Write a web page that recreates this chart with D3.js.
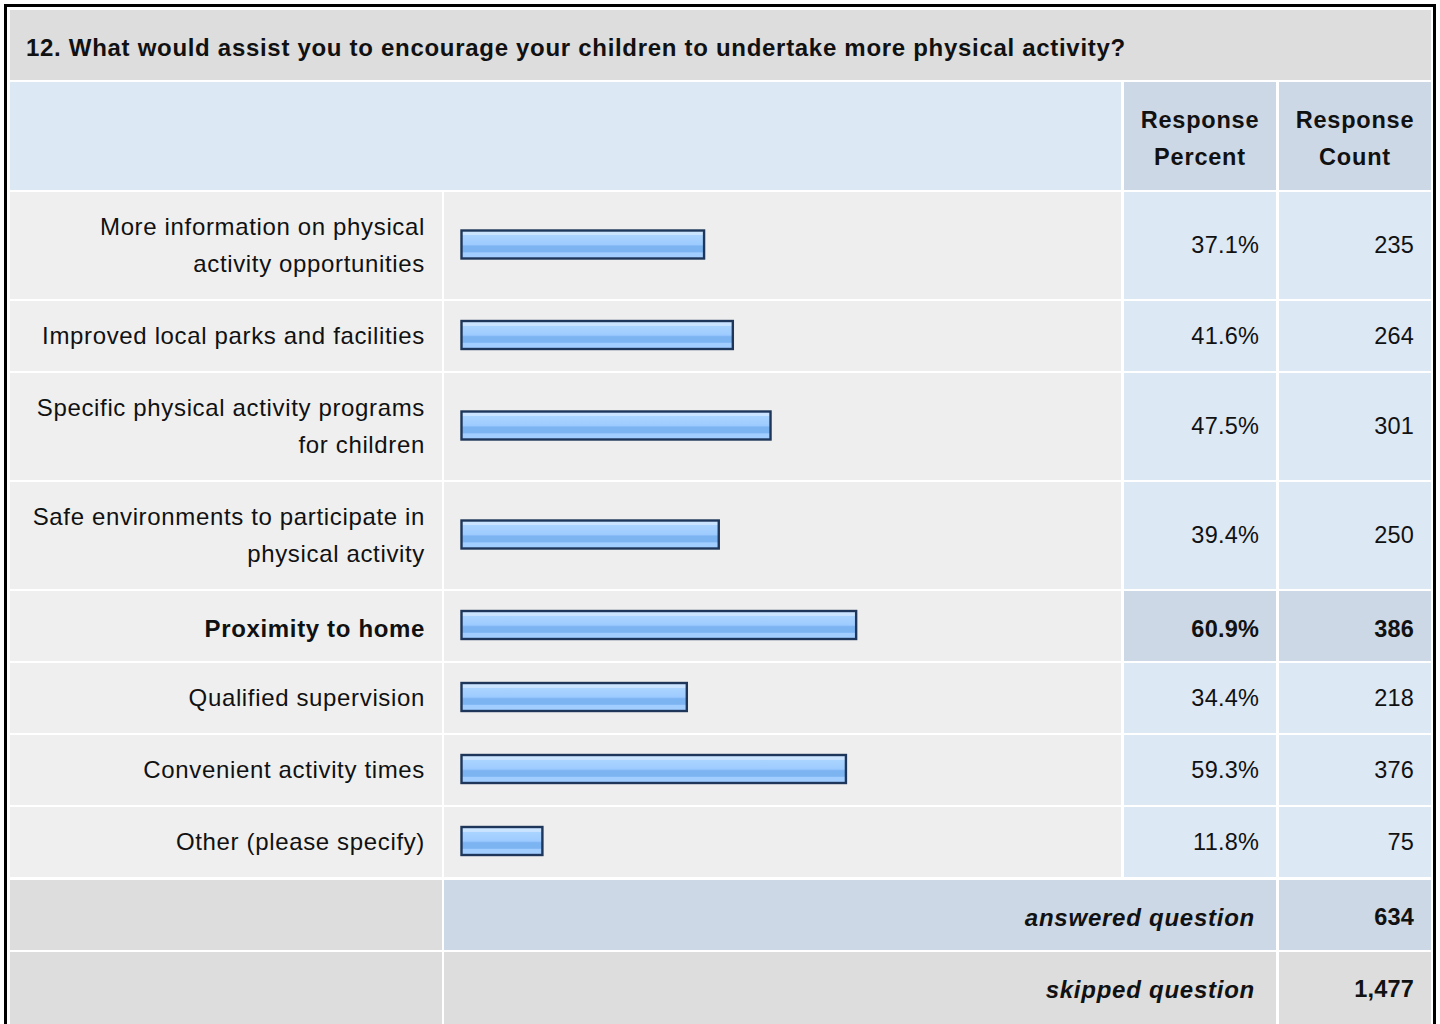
<!DOCTYPE html>
<html>
<head>
<meta charset="utf-8">
<script src="https://cdn.jsdelivr.net/npm/d3@7"></script>
<style>
  html, body { margin: 0; padding: 0; background: #ffffff; }
  svg { display: block; }
  text { font-family: "Liberation Sans", Arial, Helvetica, sans-serif; fill: #111; }
</style>
</head>
<body>
<svg id="chart" width="1440" height="1024"></svg>
<script>
// ---- data ----
const title = "12. What would assist you to encourage your children to undertake more physical activity?";
const headers = [["Response", "Percent"], ["Response", "Count"]];
const categories = [
  "More information on physical\nactivity opportunities",
  "Improved local parks and facilities",
  "Specific physical activity programs\nfor children",
  "Safe environments to participate in\nphysical activity",
  "Proximity to home",
  "Qualified supervision",
  "Convenient activity times",
  "Other (please specify)"
];
const percents = [37.1, 41.6, 47.5, 39.4, 60.9, 34.4, 59.3, 11.8];
const counts = [235, 264, 301, 250, 386, 218, 376, 75];
const summaryLabels = ["answered question", "skipped question"];
const summaryValues = [634, 1477];

// ---- layout ----
const W = 1440, H = 1024;
const svg = d3.select("#chart");
const gap = 2;
const colLabel = [10, 442], colBar = [444, 1121], colPct = [1124, 1276], colCnt = [1279, 1431];
const titleY = [10, 80], headY = [82, 190];
const singleH = 70, doubleH = 107;
const lineH = 37;
const fontSize = 24;

const C = {
  title: "#dddddd", head: "#dde8f5", headCell: "#ccd8e6",
  label: "#efefef", barCell: "#eeeeee", val: "#dde8f5", hi: "#ccd8e6", sum: "#dddddd"
};

// frame
svg.append("rect").attr("x", 0).attr("y", 0).attr("width", W).attr("height", H).attr("fill", "#fff");
svg.append("rect").attr("x", 5.5).attr("y", 5.5).attr("width", 1429).attr("height", 1040)
  .attr("fill", "#fff").attr("stroke", "#000").attr("stroke-width", 3);

// title
svg.append("rect").attr("x", colLabel[0]).attr("y", titleY[0]).attr("width", colCnt[1] - colLabel[0])
  .attr("height", titleY[1] - titleY[0]).attr("fill", C.title);
svg.append("text").attr("x", 26).attr("y", (titleY[0] + titleY[1]) / 2 + 2).attr("dy", "0.36em")
  .attr("font-size", 24).attr("font-weight", "bold").attr("letter-spacing", 0.7).text(title);

// header
svg.append("rect").attr("x", colLabel[0]).attr("y", headY[0]).attr("width", colBar[1] - colLabel[0])
  .attr("height", headY[1] - headY[0]).attr("fill", C.head);
[colPct, colCnt].forEach((c, i) => {
  svg.append("rect").attr("x", c[0]).attr("y", headY[0]).attr("width", c[1] - c[0])
    .attr("height", headY[1] - headY[0]).attr("fill", C.headCell);
  const cy = (headY[0] + headY[1]) / 2 + 2;
  headers[i].forEach((t, j) => {
    svg.append("text").attr("x", (c[0] + c[1]) / 2).attr("y", cy + (j - 0.5) * lineH)
      .attr("dy", "0.36em").attr("text-anchor", "middle").attr("font-size", 23.5)
      .attr("font-weight", "bold").attr("letter-spacing", 0.8).text(t);
  });
});

// rows geometry
const rows = categories.map((c, i) => ({
  label: c.split("\n"), pct: percents[i], cnt: counts[i]
}));
let yCur = headY[1] + gap;
rows.forEach(r => {
  r.h = r.label.length > 1 ? doubleH : singleH;
  r.y0 = yCur; r.y1 = yCur + r.h; yCur = r.y1 + gap;
});
const maxPct = d3.max(percents);

// bar scale
const x = d3.scaleLinear().domain([0, 100]).range([467.5, 1106.5]);
const barX0 = 461;
const barH = 28;

const defs = svg.append("defs");
const grad = defs.append("linearGradient").attr("id", "barGrad").attr("x1", 0).attr("y1", 0).attr("x2", 0).attr("y2", 1);
[[0, "#cae3ff"], [0.16, "#cae3ff"], [0.17, "#aad4ff"], [0.5, "#9ecbff"], [0.56, "#7cb4f2"], [0.76, "#7cb4f2"], [0.8, "#a2cdff"], [1, "#a2cdff"]]
  .forEach(s => grad.append("stop").attr("offset", s[0]).attr("stop-color", s[1]));

const g = svg.append("g");
const rowG = g.selectAll("g.row").data(rows).join("g").attr("class", "row");

rowG.append("rect").attr("x", colLabel[0]).attr("y", d => d.y0).attr("width", colLabel[1] - colLabel[0])
  .attr("height", d => d.h).attr("fill", C.label);
rowG.append("rect").attr("x", colBar[0]).attr("y", d => d.y0).attr("width", colBar[1] - colBar[0])
  .attr("height", d => d.h).attr("fill", C.barCell);
rowG.append("rect").attr("x", colPct[0]).attr("y", d => d.y0).attr("width", colPct[1] - colPct[0])
  .attr("height", d => d.h).attr("fill", d => d.pct === maxPct ? C.hi : C.val);
rowG.append("rect").attr("x", colCnt[0]).attr("y", d => d.y0).attr("width", colCnt[1] - colCnt[0])
  .attr("height", d => d.h).attr("fill", d => d.pct === maxPct ? C.hi : C.val);

const textY = d => (d.y0 + d.y1) / 2 - 0.5 + (d.pct === maxPct ? 3 : 0);

// labels
rowG.each(function (d) {
  const sel = d3.select(this);
  const cy = textY(d);
  const n = d.label.length;
  d.label.forEach((t, j) => {
    sel.append("text").attr("x", colLabel[1] - 17).attr("y", cy + (j - (n - 1) / 2) * lineH)
      .attr("dy", "0.36em").attr("text-anchor", "end").attr("font-size", fontSize)
      .attr("letter-spacing", 0.65)
      .attr("font-weight", d.pct === maxPct ? "bold" : "normal").text(t);
  });
});

// bars
rowG.append("rect")
  .attr("x", barX0 + 0.5)
  .attr("y", d => (d.y0 + d.y1) / 2 - barH / 2 - 1)
  .attr("width", d => x(d.pct) - barX0 - 1)
  .attr("height", barH)
  .attr("fill", "url(#barGrad)")
  .attr("stroke", "#1d3659").attr("stroke-width", 2.4);

// values
const fmtPct = d => d.toFixed(1) + "%";
rowG.append("text").attr("x", colPct[1] - 17).attr("y", textY).attr("dy", "0.36em")
  .attr("text-anchor", "end").attr("font-size", 23.5).attr("letter-spacing", 0.2)
  .attr("font-weight", d => d.pct === maxPct ? "bold" : "normal").text(d => fmtPct(d.pct));
rowG.append("text").attr("x", colCnt[1] - 17).attr("y", textY).attr("dy", "0.36em")
  .attr("text-anchor", "end").attr("font-size", 23.5).attr("letter-spacing", 0.2)
  .attr("font-weight", d => d.pct === maxPct ? "bold" : "normal").text(d => d3.format(",")(d.cnt));

// summary rows
const fmtCount = d3.format(",");
yCur += 1;
summaryLabels.forEach((lab, i) => {
  const y0 = yCur, h = singleH + (i === 1 ? 10 : 0);
  const fillMid = i === 0 ? C.hi : C.sum;
  svg.append("rect").attr("x", colLabel[0]).attr("y", y0).attr("width", colLabel[1] - colLabel[0]).attr("height", h).attr("fill", C.sum);
  svg.append("rect").attr("x", colBar[0]).attr("y", y0).attr("width", colPct[1] - colBar[0]).attr("height", h).attr("fill", fillMid);
  svg.append("rect").attr("x", colCnt[0]).attr("y", y0).attr("width", colCnt[1] - colCnt[0]).attr("height", h).attr("fill", fillMid);
  const cy = y0 + singleH / 2 + 2;
  svg.append("text").attr("x", colPct[1] - 21).attr("y", cy).attr("dy", "0.36em").attr("text-anchor", "end")
    .attr("font-size", 24).attr("font-weight", "bold").attr("font-style", "italic").attr("letter-spacing", 0.75).text(lab);
  svg.append("text").attr("x", colCnt[1] - 17).attr("y", cy).attr("dy", "0.36em").attr("text-anchor", "end")
    .attr("font-size", 23.5).attr("font-weight", "bold").attr("letter-spacing", 0.2).text(fmtCount(summaryValues[i]));
  yCur = y0 + h + gap;
});
</script>
</body>
</html>
